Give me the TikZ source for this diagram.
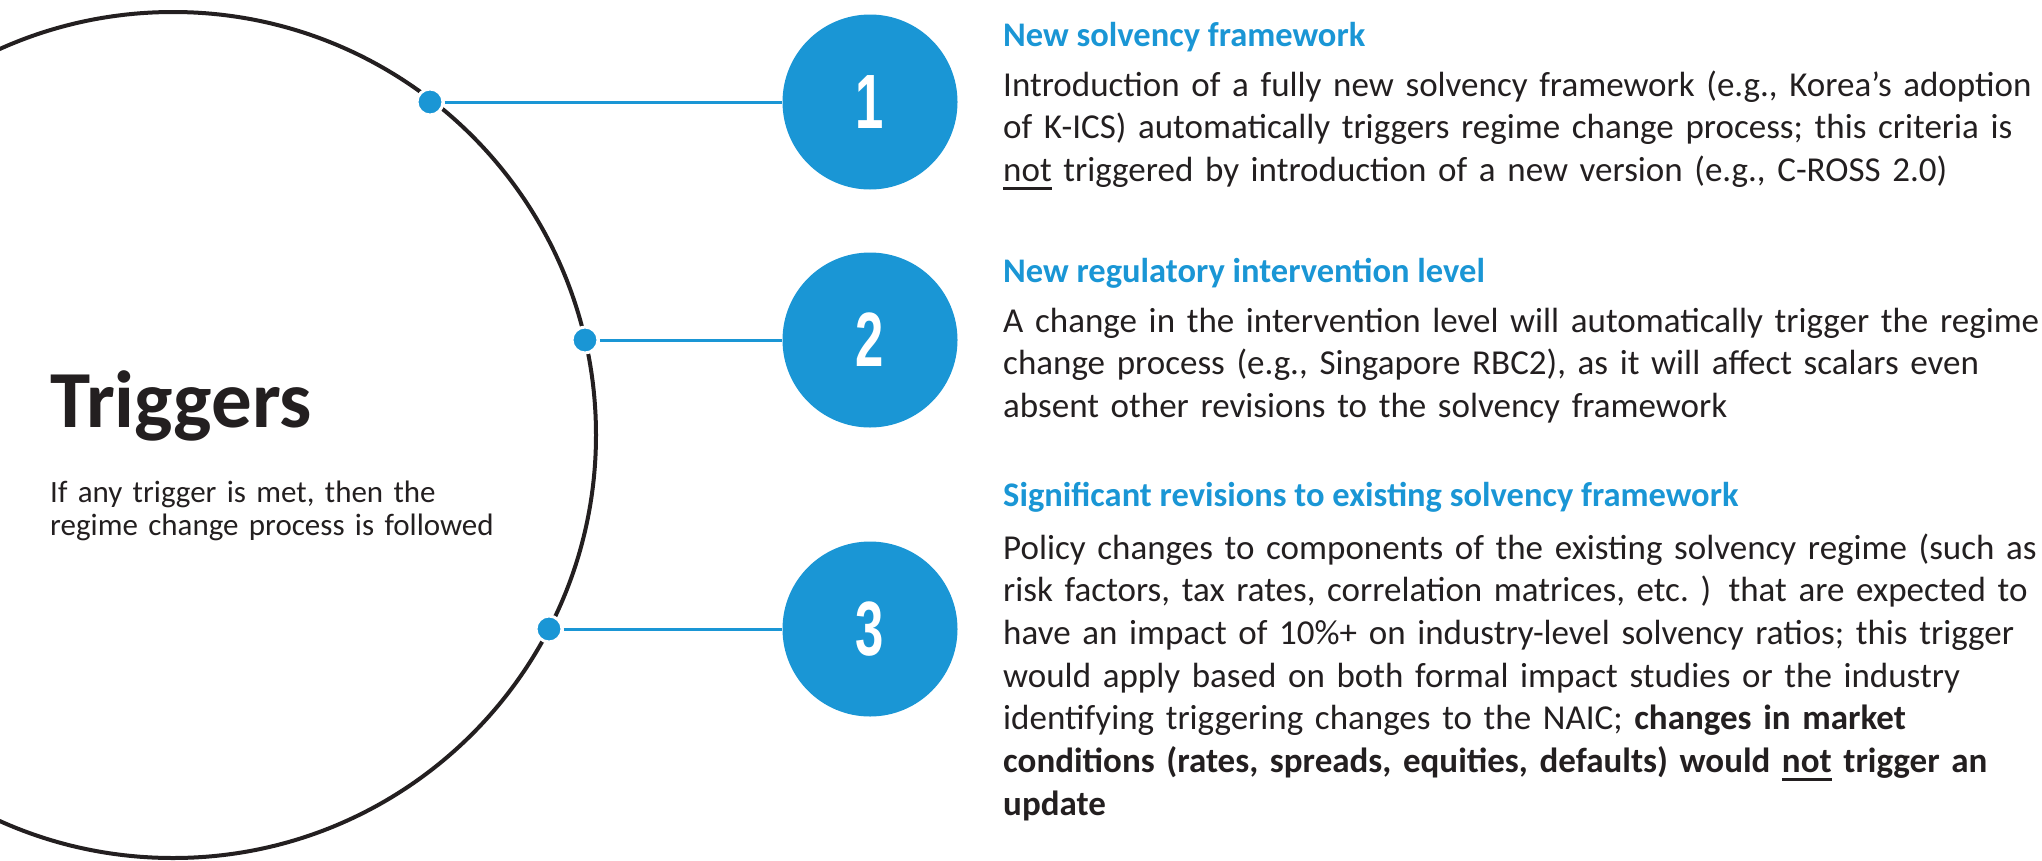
\documentclass[tikz,border=0pt]{standalone}
\usepackage{fontspec}
\usepackage{graphicx}
\setmainfont{Carlito}
\newfontfamily\digitfont{Liberation Sans}
\definecolor{tblue}{RGB}{26,150,213}
\definecolor{ink}{RGB}{35,31,32}
% underline with a heavier rule
\newcommand\uln[1]{\leavevmode\setbox0\hbox{#1}\rlap{\rule[-8.5pt]{\wd0}{2.7pt}}\box0{}}

\begin{document}
\begin{tikzpicture}[x=1pt,y=-1pt,
  ring/.style={draw=ink,line width=4pt},
  dot/.style={circle,fill=tblue,draw=white,line width=3pt,minimum size=26pt,inner sep=0pt},
  numdisc/.style={circle,fill=tblue,minimum size=175pt,inner sep=0pt,text=white,
    font=\digitfont\bfseries\fontsize{77}{77}\selectfont},
  link/.style={draw=tblue,line width=3pt},
  head/.style={anchor=base west,inner sep=0pt,text=tblue,font=\bfseries\fontsize{34.5}{43}\selectfont},
  body/.style={anchor=base west,inner sep=0pt,text=ink,align=left,text width=1100pt,
    font=\fontsize{35}{42.7}\selectfont},
]
\useasboundingbox (0,0) rectangle (2042,860);
\clip (0,0) rectangle (2042,860);

% the large ring on the left
\draw[ring] (173,435) circle[radius=423pt];

% title and note inside the ring
\node[anchor=base west,inner sep=0pt,text=ink,font=\bfseries\fontsize{81}{81}\selectfont]
  (title) at (50,427) {Triggers};
\node[anchor=base west,inner sep=0pt,text=ink,align=left,text width=600pt,
  font=\fontsize{31}{33}\selectfont] (note) at (50,502)
  {If any trigger is met, then the\\regime change process is followed};

% numbered discs
\node[numdisc] (n1) at (870,102) {\scalebox{0.66}[1]{1}};
\node[numdisc] (n2) at (870,340) {\scalebox{0.66}[1]{2}};
\node[numdisc] (n3) at (870,629) {\scalebox{0.66}[1]{3}};

% dots on the ring and their links to the discs
\node[dot] (d1) at (430,102) {};
\node[dot] (d2) at (585,340) {};
\node[dot] (d3) at (549,629) {};
\draw[link] (d1) -- (n1);
\draw[link] (d2) -- (n2);
\draw[link] (d3) -- (n3);

% trigger descriptions
\node[head] (h1) at (1003,46) {New solvency framework};
\node[body] (b1) at (1003,96) {Introduction of a fully new solvency framework (e.g., Korea’s adoption\\
of K-ICS) automatically triggers regime change process; this criteria is\\
\uln{not} triggered by introduction of a new version (e.g., C-ROSS 2.0)};

\node[head] (h2) at (1003,282) {New regulatory intervention level};
\node[body] (b2) at (1003,332) {A change in the intervention level will automatically trigger the regime\\
change process (e.g., Singapore RBC2), as it will affect scalars even\\
absent other revisions to the solvency framework};

\node[head] (h3) at (1003,506) {Significant revisions to existing solvency framework};
\node[body] (b3) at (1003,559) {Policy changes to components of the existing solvency regime (such as\\
risk factors, tax rates, correlation matrices, etc.\ ) that are expected to\\
have an impact of 10\%+ on industry-level solvency ratios; this trigger\\
would apply based on both formal impact studies or the industry\\
identifying triggering changes to the NAIC; \textbf{changes in market}\\
\textbf{conditions (rates, spreads, equities, defaults) would \uln{not} trigger an}\\
\textbf{update}};
\end{tikzpicture}
\end{document}
